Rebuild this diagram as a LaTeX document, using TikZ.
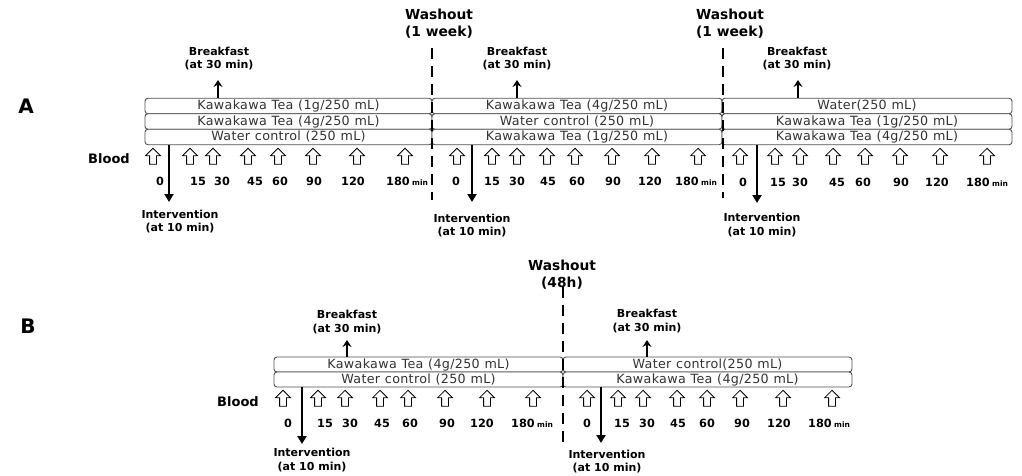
\documentclass[tikz,border=0pt]{standalone}
\usepackage{fontspec}
\setmainfont{DejaVu Sans}
\newfontfamily\boxfont[LetterSpace=2.5,WordSpace=1.1]{DejaVu Sans}
\usetikzlibrary{shapes.arrows,arrows.meta}
\definecolor{boxgray}{HTML}{505050}
\definecolor{txtgray}{HTML}{333333}
\tikzset{
 rowbox/.style={draw=boxgray, line width=0.9pt, rounded corners=3pt, fill=white, inner sep=0pt, text=txtgray, font=\boxfont\fontsize{12.7}{13}\selectfont},
 bloodarrow/.style={single arrow, draw=black, line width=0.8pt, shape border rotate=90, minimum height=16pt, minimum width=14pt, single arrow head extend=4pt, inner sep=3pt},
 numlbl/.style={font=\bfseries\fontsize{11.3}{12}\selectfont, inner sep=0pt},
 minlbl/.style={font=\bfseries\fontsize{7.5}{8}\selectfont, inner sep=0pt},
 evtlbl/.style={font=\bfseries\fontsize{11}{13.5}\selectfont, align=center, inner sep=0pt},
 washlbl/.style={font=\bfseries\fontsize{13.8}{17}\selectfont, align=center, inner sep=0pt},
 panellbl/.style={font=\bfseries\fontsize{20}{22}\selectfont, inner sep=0pt},
 bloodlbl/.style={font=\bfseries\fontsize{13}{14}\selectfont, inner sep=0pt},
 washline/.style={line width=2.3pt, dash pattern=on 11pt off 7pt},
 evtarrow/.style={line width=2pt, -{Triangle[length=8pt,width=9pt]}},
 bfarrow/.style={line width=2pt, -{Stealth[length=7pt,width=9pt,inset=2.5pt]}},
}
\begin{document}
\begin{tikzpicture}[x=1pt,y=-1pt]
\useasboundingbox (0,0) rectangle (1022,475);
% ---------------- Panel A ----------------
\node[panellbl] (labA) at (26,106) {A};
\node[bloodlbl] (bloodA) at (109,159) {Blood};
% rows segment 1
\node[rowbox, minimum width=287pt, minimum height=15.5pt] (a1r1) at (288.5,106) {Kawakawa Tea (1g/250 mL)};
\node[rowbox, minimum width=287pt, minimum height=15.5pt] (a1r2) at (288.5,121.5) {Kawakawa Tea (4g/250 mL)};
\node[rowbox, minimum width=287pt, minimum height=15.5pt] (a1r3) at (288.5,137) {Water control (250 mL)};
% rows segment 2
\node[rowbox, minimum width=290pt, minimum height=15.5pt] (a2r1) at (577,106) {Kawakawa Tea (4g/250 mL)};
\node[rowbox, minimum width=290pt, minimum height=15.5pt] (a2r2) at (577,121.5) {Water control (250 mL)};
\node[rowbox, minimum width=290pt, minimum height=15.5pt] (a2r3) at (577,137) {Kawakawa Tea (1g/250 mL)};
% rows segment 3
\node[rowbox, minimum width=290pt, minimum height=15.5pt] (a3r1) at (867,106) {Water(250 mL)};
\node[rowbox, minimum width=290pt, minimum height=15.5pt] (a3r2) at (867,121.5) {Kawakawa Tea (1g/250 mL)};
\node[rowbox, minimum width=290pt, minimum height=15.5pt] (a3r3) at (867,137) {Kawakawa Tea (4g/250 mL)};
% washouts
\node[washlbl] (wA1) at (439,24) {Washout\\(1 week)};
\node[washlbl] (wA2) at (730,24) {Washout\\(1 week)};
\coordinate (wA1top) at (432,48); \coordinate (wA1bot) at (432,200);
\coordinate (wA2top) at (723,48); \coordinate (wA2bot) at (723,198);
% breakfast
\node[evtlbl] (bA1) at (219,58.5) {Breakfast\\(at 30 min)};
\node[evtlbl] (bA2) at (517,58.5) {Breakfast\\(at 30 min)};
\node[evtlbl] (bA3) at (797,58.5) {Breakfast\\(at 30 min)};
\coordinate (bA1t) at (218,80); \coordinate (bA2t) at (517,80); \coordinate (bA3t) at (798,80);
\draw[bfarrow] (a1r1.north -| bA1t) -- (bA1t);
\draw[bfarrow] (a2r1.north -| bA2t) -- (bA2t);
\draw[bfarrow] (a3r1.north -| bA3t) -- (bA3t);
% intervention
\node[evtlbl] (iA1) at (180,221.5) {Intervention\\(at 10 min)};
\node[evtlbl] (iA2) at (472,225.5) {Intervention\\(at 10 min)};
\node[evtlbl] (iA3) at (762,225) {Intervention\\(at 10 min)};
\coordinate (iA1t) at (169,202); \coordinate (iA2t) at (472,202); \coordinate (iA3t) at (757,203);
\draw[evtarrow] (a1r3.south -| iA1t) -- (iA1t);
\draw[evtarrow] (a2r3.south -| iA2t) -- (iA2t);
\draw[evtarrow] (a3r3.south -| iA3t) -- (iA3t);
% blood arrows
\foreach \x [count=\i] in {153,190,213,248,278,313,357,405}
  \node[bloodarrow] (ba1-\i) at (\x,158) {};
\foreach \x [count=\i] in {457,492,517,547,575,612,652,698}
  \node[bloodarrow] (ba2-\i) at (\x,158) {};
\foreach \x [count=\i] in {740,775,800,833,865,900,940,987}
  \node[bloodarrow] (ba3-\i) at (\x,158) {};
% numbers
\foreach \x/\t [count=\i] in {160/0,198/15,222/30,255/45,280/60,314/90,353/120,398/180}
  \node[numlbl] (na1-\i) at (\x,181) {\t};
\node[minlbl, anchor=base west] (ma1) at ([xshift=2pt]na1-8.base east) {min};
\foreach \x/\t [count=\i] in {456/0,492/15,517/30,548/45,577/60,613/90,650/120,687/180}
  \node[numlbl] (na2-\i) at (\x,181) {\t};
\node[minlbl, anchor=base west] (ma2) at ([xshift=2pt]na2-8.base east) {min};
\foreach \x/\t [count=\i] in {743/0,778/15,800/30,837/45,863/60,901/90,937/120,978/180}
  \node[numlbl] (na3-\i) at (\x,182) {\t};
\node[minlbl, anchor=base west] (ma3) at ([xshift=2pt]na3-8.base east) {min};
\draw[washline] (wA1top) -- (wA1bot);
\draw[washline] (wA2top) -- (wA2bot);
% ---------------- Panel B ----------------
\node[panellbl] (labB) at (28,326) {B};
\node[bloodlbl] (bloodB) at (238,402) {Blood};
\node[rowbox, minimum width=289pt, minimum height=15pt] (b1r1) at (418.5,364.5) {Kawakawa Tea (4g/250 mL)};
\node[rowbox, minimum width=289pt, minimum height=15pt] (b1r2) at (418.5,379.5) {Water control (250 mL)};
\node[rowbox, minimum width=289pt, minimum height=15pt] (b2r1) at (707.5,364.5) {Water control(250 mL)};
\node[rowbox, minimum width=289pt, minimum height=15pt] (b2r2) at (707.5,379.5) {Kawakawa Tea (4g/250 mL)};
\node[washlbl] (wB) at (562,275) {Washout\\(48h)};
\coordinate (wBtop) at (563,287); \coordinate (wBbot) at (563,442);
\node[evtlbl] (bB1) at (347,322) {Breakfast\\(at 30 min)};
\node[evtlbl] (bB2) at (647,321) {Breakfast\\(at 30 min)};
\coordinate (bB1t) at (347,340); \coordinate (bB2t) at (647,340);
\draw[bfarrow] (b1r1.north -| bB1t) -- (bB1t);
\draw[bfarrow] (b2r1.north -| bB2t) -- (bB2t);
\node[evtlbl] (iB1) at (312,460) {Intervention\\(at 10 min)};
\node[evtlbl] (iB2) at (607,461.5) {Intervention\\(at 10 min)};
\coordinate (iB1t) at (302,444); \coordinate (iB2t) at (601,443);
\draw[evtarrow] (b1r2.south -| iB1t) -- (iB1t);
\draw[evtarrow] (b2r2.south -| iB2t) -- (iB2t);
\foreach \x [count=\i] in {283,318,345,380,408,445,487,533}
  \node[bloodarrow] (bb1-\i) at (\x,400) {};
\foreach \x [count=\i] in {587,618,643,677,707,740,783,832}
  \node[bloodarrow] (bb2-\i) at (\x,400) {};
\foreach \x/\t [count=\i] in {288/0,325/15,350/30,382/45,410/60,447/90,482/120,523/180}
  \node[numlbl] (nb1-\i) at (\x,423) {\t};
\node[minlbl, anchor=base west] (mb1) at ([xshift=2pt]nb1-8.base east) {min};
\foreach \x/\t [count=\i] in {587/0,622/15,647/30,678/45,707/60,742/90,779/120,820/180}
  \node[numlbl] (nb2-\i) at (\x,423) {\t};
\node[minlbl, anchor=base west] (mb2) at ([xshift=2pt]nb2-8.base east) {min};
\draw[washline] (wBtop) -- (wBbot);
\end{tikzpicture}
\end{document}
